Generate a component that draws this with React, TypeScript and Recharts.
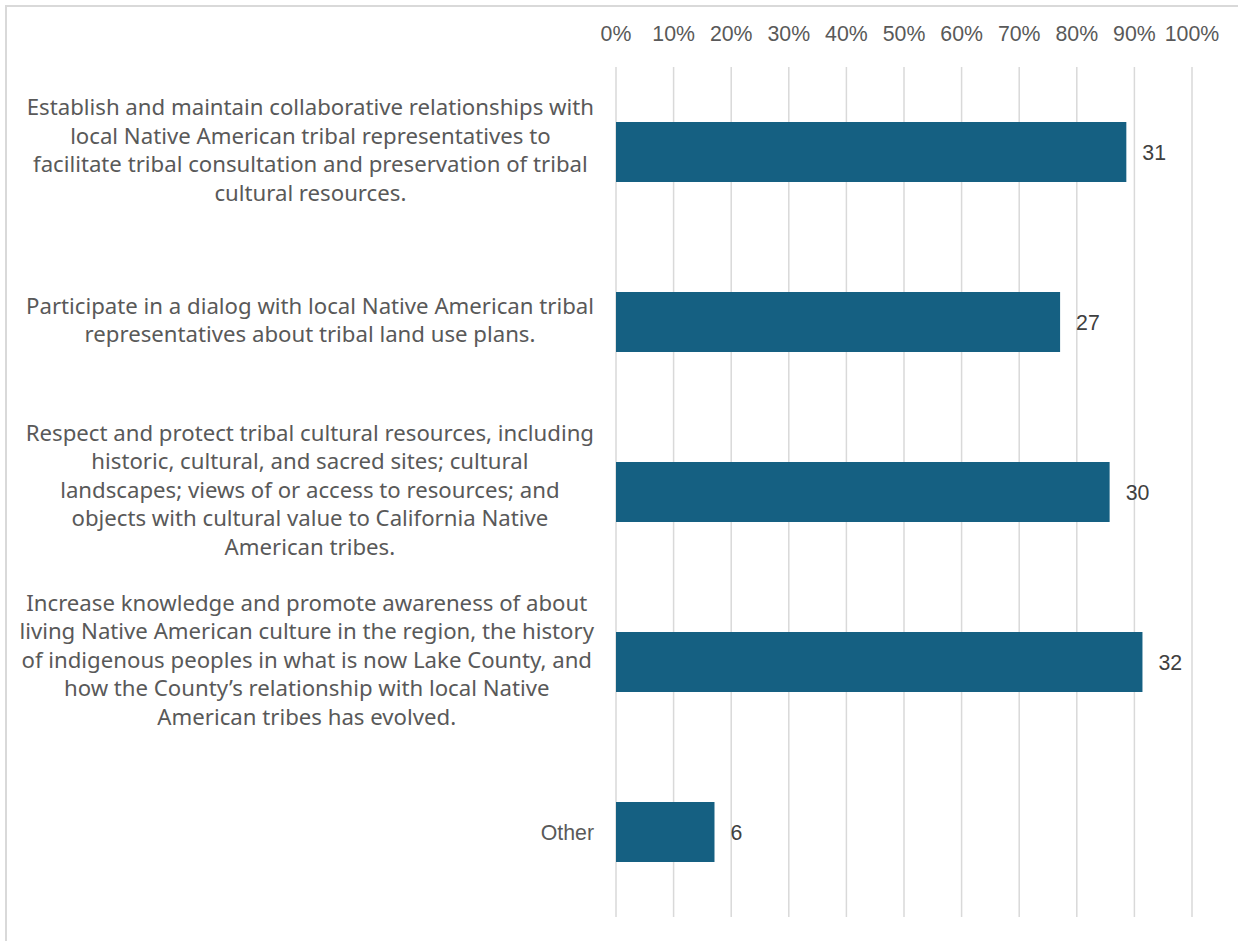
import React from 'react'
import { BarChart, Bar, XAxis, YAxis, CartesianGrid, LabelList } from 'recharts'

const categoryLines = [
  [
    'Establish and maintain collaborative relationships with',
    'local Native American tribal representatives to',
    'facilitate tribal consultation and preservation of tribal',
    'cultural resources.',
  ],
  [
    'Participate in a dialog with local Native American tribal',
    'representatives about tribal land use plans.',
  ],
  [
    'Respect and protect tribal cultural resources, including',
    'historic, cultural, and sacred sites; cultural',
    'landscapes; views of or access to resources; and',
    'objects with cultural value to California Native',
    'American tribes.',
  ],
  [
    'Increase knowledge and promote awareness of about',
    'living Native American culture in the region, the history',
    'of indigenous peoples in what is now Lake County, and',
    'how the County\u2019s relationship with local Native',
    'American tribes has evolved.',
  ],
  ['Other'],
]
const sharePct = [88.6, 77.1, 85.7, 91.4, 17.1]
const responseCounts = [31, 27, 30, 32, 6]
const pctTicks = [0, 10, 20, 30, 40, 50, 60, 70, 80, 90, 100]

const data = categoryLines.map((lines, i) => ({
  name: lines.join(' '),
  pct: sharePct[i],
  count: responseCounts[i],
}))

const linesByName: Record<string, string[]> = {}
categoryLines.forEach((lines) => {
  linesByName[lines.join(' ')] = lines
})

const TEXT_GRAY = '#595959'
const LABEL_SIZE = 22.2
const LINE_H = 28.5
const WRAP_FONT = '"Noto Sans", sans-serif'
const PLAIN_FONT = '"Liberation Sans", Arial, sans-serif'

let ctx: CanvasRenderingContext2D | null = null
const measure = (s: string, font: string) => {
  if (!ctx) ctx = document.createElement('canvas').getContext('2d')
  if (!ctx) return s.length * 10
  ctx.font = font
  return ctx.measureText(s).width
}

// wrapped labels: lines centred inside a block that is right-aligned to the axis
const CategoryTick = (props: any) => {
  const { x, y, payload } = props
  const lines = linesByName[payload.value] || [String(payload.value)]
  const wrapped = lines.length > 1
  const family = wrapped ? WRAP_FONT : PLAIN_FONT
  const size = wrapped ? LABEL_SIZE : 21.3
  const blockW = Math.max(
    ...lines.map((l) => measure(l, `${size}px ${family}`))
  )
  const cx = x - blockW / 2
  const shift = wrapped ? -2 : 0
  return (
    <g>
      {lines.map((l, i) => (
        <text
          key={i}
          x={cx}
          y={y + shift + (i - (lines.length - 1) / 2) * LINE_H}
          dy="0.36em"
          textAnchor="middle"
          fill={TEXT_GRAY}
          fontFamily={family}
          fontSize={size}
        >
          {l}
        </text>
      ))}
    </g>
  )
}

export default function App() {
  return (
    <div
      style={{
        position: 'absolute',
        left: 0,
        top: 0,
        width: 1238,
        height: 941,
        overflow: 'hidden',
        background: '#fff',
      }}
    >
      <div
        style={{
          position: 'absolute',
          left: 5,
          top: 5,
          width: 1300,
          height: 1000,
          borderTop: '2px solid #d9d9d9',
          borderLeft: '2px solid #d9d9d9',
          zIndex: 0,
        }}
      />
      <div style={{ position: 'absolute', left: 0, top: 0, zIndex: 1 }}>
        <BarChart
          width={1238}
          height={941}
          data={data}
          layout="vertical"
          margin={{ top: 0, right: 46, bottom: 24, left: 0 }}
        >
          <CartesianGrid horizontal={false} stroke="#d9d9d9" strokeWidth={1.5} />
          <XAxis
            type="number"
            orientation="top"
            domain={[0, 100]}
            ticks={pctTicks}
            tickFormatter={(v) => `${v}%`}
            axisLine={false}
            tickLine={false}
            height={67}
            tickMargin={20}
            interval={0}
            tick={{ fill: TEXT_GRAY, fontSize: 21.3, fontFamily: PLAIN_FONT }}
          />
          <YAxis
            type="category"
            dataKey="name"
            width={616}
            axisLine={false}
            tickLine={false}
            tickMargin={16}
            interval={0}
            tick={<CategoryTick />}
          />
          <Bar dataKey="pct" fill="#156082" barSize={60} isAnimationActive={false}>
            <LabelList
              dataKey="count"
              position="right"
              offset={16}
              fill="#404040"
              fontSize={21.3}
              fontFamily={PLAIN_FONT}
            />
          </Bar>
        </BarChart>
      </div>
    </div>
  )
}
